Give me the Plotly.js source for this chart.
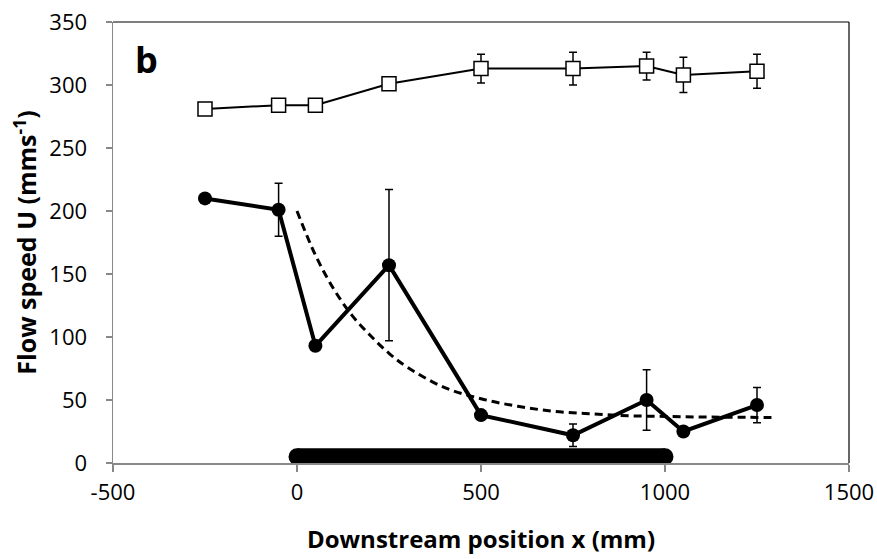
<!DOCTYPE html>
<html>
<head>
<meta charset="utf-8">
<script src="https://cdn.plot.ly/plotly-3.0.1.min.js"></script>
<style>html,body{margin:0;padding:0;background:#fff;}#chart{width:877px;height:559px;}</style>
</head>
<body>
<div id="chart"></div>
<script>
// Data
const positions = [-250, -50, 50, 250, 500, 750, 950, 1050, 1250];
const upperSpeed = [281, 284, 284, 301, 313, 313, 315, 308, 311];
const upperErr = [3, 0, 0, 0, 11.5, 13, 11, 14, 13.5];
const lowerSpeed = [210, 201, 93, 157, 38, 22, 50, 25, 46];
const lowerErr = [0, 21, 0, 60, 0, 9, 24, 0, 14];
const fitX = [0, 50, 100, 150, 200, 250, 300, 400, 500, 600, 700, 800, 900, 1000, 1100, 1200, 1300];
const fitY = [200, 165, 138, 117, 101, 87, 76, 60, 51, 45, 41, 39, 37.5, 37, 36.5, 36.3, 36];
const barX = [0, 1000];
const barY = [5, 5];
const xTicks = [-500, 0, 500, 1000, 1500];
const yTicks = [0, 50, 100, 150, 200, 250, 300, 350];

const font = "Open Sans, Lato, sans-serif";

const traces = [
  {
    x: barX, y: barY, mode: 'lines+markers', type: 'scatter',
    line: {color: '#000', width: 17},
    marker: {symbol: 'circle', size: 17, color: '#000'},
    hoverinfo: 'skip', showlegend: false, cliponaxis: false
  },
  {
    x: fitX, y: fitY, mode: 'lines', type: 'scatter',
    line: {color: '#000', width: 3, dash: '8px,5px', shape: 'spline'},
    showlegend: false
  },
  {
    x: positions, y: upperSpeed, mode: 'lines+markers', type: 'scatter',
    line: {color: '#000', width: 2},
    marker: {symbol: 'square', size: 14, color: '#fff', line: {color: '#000', width: 1.5}},
    error_y: {type: 'data', array: upperErr, visible: true, color: '#000', thickness: 1.5, width: 4},
    showlegend: false
  },
  {
    x: positions, y: lowerSpeed, mode: 'lines+markers', type: 'scatter',
    line: {color: '#000', width: 4},
    marker: {symbol: 'circle', size: 14, color: '#000'},
    error_y: {type: 'data', array: lowerErr, visible: true, color: '#000', thickness: 1.5, width: 4},
    showlegend: false
  }
];

const layout = {
  width: 877, height: 559,
  margin: {l: 113, r: 28, t: 22, b: 96},
  paper_bgcolor: '#fff', plot_bgcolor: '#fff',
  showlegend: false,
  font: {family: font, size: 23, color: '#000'},
  xaxis: {
    range: [-500, 1500], tickvals: xTicks, ticktext: xTicks.map(String),
    showgrid: false, zeroline: false,
    showline: true, linecolor: '#888', linewidth: 1.5,
    ticks: 'outside', ticklen: 7, tickcolor: '#888', tickwidth: 1.5,
    ticklabelstandoff: 2,
    tickfont: {family: font, size: 22, color: '#000'},
    title: {text: 'Downstream position x (mm)', font: {family: font, size: 24, color: '#000', weight: 'bold'}, standoff: 26}
  },
  yaxis: {
    range: [0, 350], tickvals: yTicks, ticktext: yTicks.map(String),
    showgrid: false, zeroline: false,
    showline: true, linecolor: '#888', linewidth: 1.5,
    ticks: 'outside', ticklen: 6, tickcolor: '#888', tickwidth: 1.5,
    ticklabelstandoff: 14,
    tickfont: {family: font, size: 22, color: '#000'},
    title: {text: 'Flow speed U (mms<sup>-1</sup>)', font: {family: font, size: 25, color: '#000', weight: 'bold'}, standoff: 5}
  },
  shapes: [
    {type: 'line', xref: 'paper', yref: 'paper', x0: 0, x1: 1, y0: 1, y1: 1, line: {color: '#000', width: 1.2}},
    {type: 'line', xref: 'paper', yref: 'paper', x0: 1, x1: 1, y0: 0, y1: 1, line: {color: '#000', width: 1.2}}
  ],
  annotations: [
    {text: 'b', xref: 'paper', yref: 'paper', x: 0.027, y: 0.914, xanchor: 'left', yanchor: 'middle',
     showarrow: false, font: {family: font, size: 36, color: '#000', weight: 'bold'}}
  ]
};

Plotly.newPlot('chart', traces, layout, {displayModeBar: false, staticPlot: true});
</script>
</body>
</html>
